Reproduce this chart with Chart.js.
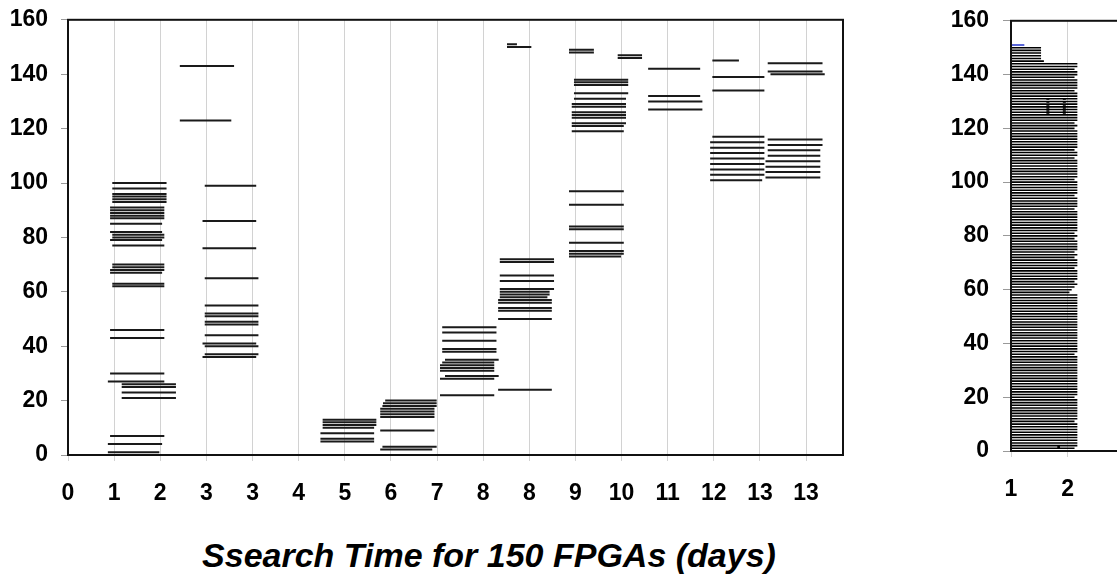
<!DOCTYPE html>
<html>
<head>
<meta charset="utf-8">
<script src="https://cdn.jsdelivr.net/npm/chart.js@4/dist/chart.umd.min.js"></script>
<style>
body{margin:0;background:#fff;overflow:hidden;width:1117px;height:581px;position:relative}
#box1{position:absolute;left:0;top:-7px;width:880px;height:527px}
#box2{position:absolute;left:940px;top:-7px;width:380px;height:527px}
#title{position:absolute;left:0;top:536px;width:978px;text-align:center;line-height:40px;
  font:italic bold 34px 'Liberation Sans',Arial,sans-serif;color:#000}
</style>
</head>
<body>
<div id="box1"><canvas id="myChart"></canvas></div>
<div id="box2"><canvas id="myChart2"></canvas></div>
<div id="title">Ssearch Time for 150 FPGAs (days)</div>
<script>
// x tick labels (ticks every 20 h, shown in rounded days)
const xTickLabels = ['0','1','2','3','3','4','5','6','7','8','8','9','10','11','12','13','13'];

// [fpga, start day, end day]
const batch1 = [[100,0.80,1.78],[98,0.80,1.78],[96,0.80,1.78],[95,0.80,1.78],[94,0.80,1.78],[93,0.80,1.78],
  [91,0.76,1.74],[90,0.76,1.74],[89,0.76,1.74],[88,0.76,1.74],[87,0.76,1.74],
  [85,0.76,1.70],[82,0.76,1.70],[81,0.80,1.74],[80,0.80,1.74],[79,0.76,1.70],[77,0.80,1.74],
  [70,0.80,1.74],[69,0.80,1.74],[68,0.76,1.74],[67,0.76,1.70],[63,0.80,1.74],[62,0.80,1.74],
  [46,0.76,1.74],[43,0.76,1.74],[30,0.76,1.74],[27,0.72,1.74],
  [26,0.97,1.95],[25,0.97,1.95],[23,0.97,1.95],[21,0.97,1.95],
  [7,0.76,1.74],[4,0.72,1.70],[1,0.72,1.65]];
const batch2 = [[143,2.02,3.00],[123,2.02,2.95],[99,2.47,3.40],[86,2.43,3.40],[76,2.43,3.40],[65,2.47,3.44],
  [55,2.47,3.44],[52,2.47,3.44],[51,2.47,3.44],[49,2.47,3.44],[48,2.47,3.44],[44,2.47,3.44],
  [41,2.43,3.40],[40,2.47,3.44],[37,2.47,3.44],[36,2.43,3.40]];
const batch3 = [[13,4.60,5.57],[12,4.60,5.57],[11,4.60,5.57],[10,4.60,5.53],[8,4.56,5.53],[6,4.56,5.53],[5,4.56,5.53]];
const batch4 = [[20,5.73,6.66],[19,5.69,6.66],[18,5.68,6.66],[17,5.64,6.62],[16,5.64,6.62],[15,5.64,6.62],
  [14,5.64,6.62],[9,5.64,6.62],[3,5.68,6.66],[2,5.64,6.58]];
const batch5 = [[47,6.76,7.74],[45,6.76,7.74],[42,6.76,7.74],[39,6.76,7.74],[38,6.76,7.74],[35,6.81,7.78],
  [34,6.76,7.70],[33,6.72,7.70],[32,6.72,7.70],[31,6.72,7.70],[29,6.81,7.78],[28,6.72,7.70],[22,6.72,7.70]];
const batch6 = [[151,7.93,8.11],[150,7.93,8.37],
  [72,7.80,8.78],[71,7.80,8.78],[66,7.80,8.78],[64,7.80,8.78],[61,7.80,8.78],[60,7.80,8.70],[59,7.80,8.70],
  [58,7.80,8.66],[57,7.77,8.74],[56,7.77,8.74],[54,7.77,8.74],[53,7.77,8.74],[50,7.77,8.74],[24,7.77,8.74]];
const batch7 = [[149,9.05,9.50],[148,9.05,9.50],[147,9.93,10.37],[146,9.93,10.37],
  [138,9.14,10.12],[137,9.14,10.12],[136,9.14,10.12],[133,9.14,10.12],[131,9.14,10.08],[129,9.10,10.08],
  [128,9.10,10.08],[126,9.10,10.08],[125,9.10,10.08],[124,9.10,10.08],[122,9.10,10.08],[121,9.10,10.04],[119,9.10,10.04],
  [97,9.05,10.04],[92,9.05,10.04],[84,9.05,10.04],[83,9.05,10.04],[78,9.05,10.04],[75,9.05,10.04],[74,9.05,10.04],[73,9.05,9.99]];
const batch8 = [[142,10.48,11.42],[132,10.48,11.42],[130,10.48,11.46],[127,10.48,11.46]];
const batch9 = [[145,11.64,12.12],[139,11.64,12.58],[134,11.64,12.58],[117,11.64,12.58],[115,11.60,12.58],
  [113,11.60,12.58],[111,11.60,12.58],[109,11.60,12.58],[107,11.60,12.58],[105,11.60,12.58],[103,11.60,12.58],[101,11.60,12.54]];
const batch10 = [[144,12.64,13.63],[141,12.64,13.63],[140,12.69,13.67],[116,12.64,13.63],[114,12.64,13.63],
  [112,12.64,13.59],[110,12.64,13.59],[108,12.60,13.59],[106,12.60,13.59],[104,12.60,13.59],[102,12.60,13.59]];

// right panel: end of each fpga row 1..150 (all start at 1)
const rowEnd = [
  2.12,2.17,2.17,2.17,2.17,2.17,2.17,2.17,2.17,2.17,
  2.12,2.17,2.17,2.17,2.17,2.17,2.17,2.17,2.17,2.12,
  2.17,2.17,2.17,2.17,2.17,2.17,2.17,2.17,2.17,2.17,
  2.17,2.17,2.17,2.17,2.17,2.12,2.17,2.17,2.17,2.17,
  2.17,2.17,2.17,2.17,2.17,2.17,2.17,2.17,2.17,2.17,
  2.17,2.17,2.17,2.17,2.17,2.17,2.17,2.17,2.03,2.07,
  2.12,2.17,2.12,2.17,2.17,2.17,2.17,2.12,2.17,2.17,
  2.17,2.12,2.17,2.12,2.17,2.17,2.17,2.17,2.12,2.17,
  2.12,2.17,2.17,2.17,2.17,2.17,2.17,2.17,2.17,2.12,
  2.17,2.17,2.17,2.17,2.12,2.17,2.17,2.17,2.17,2.17,
  2.12,2.17,2.17,2.17,2.17,2.17,2.17,2.17,2.12,2.17,
  2.17,2.12,2.17,2.17,2.17,2.17,2.17,2.17,2.17,2.12,
  2.17,2.12,2.17,2.17,2.17,2.17,2.17,2.17,2.17,2.17,
  2.17,2.17,2.17,2.12,2.17,2.17,2.17,2.17,2.12,2.17,
  2.17,2.12,2.17,2.17,1.58,1.53,1.53,1.53,1.53,1.53];
const blueRow = [151, 1.00, 1.235];
const markX = [1.65, 1.94];
const markY = [125, 132];
const strayDot = [1.84, 1.5];

function segPoints(list){
  const pts = [];
  list.forEach(s => {
    pts.push({x:s[1], y:s[0]});
    pts.push({x:s[2], y:s[0]});
    pts.push({x:s[2], y:null});
  });
  return pts;
}

const frame = {
  id:'frame',
  afterDraw(chart){
    const a = chart.chartArea, c = chart.ctx;
    c.save();
    c.strokeStyle = '#111';
    c.lineWidth = 2;
    c.strokeRect(a.left, a.top, a.right - a.left, a.bottom - a.top);
    c.restore();
  }
};

const tickFont = {family:"'Liberation Sans', Arial, sans-serif", size:23, weight:'bold'};
Chart.defaults.color = '#000';

function chart1(){
  const all = [batch1,batch2,batch3,batch4,batch5,batch6,batch7,batch8,batch9,batch10];
  const datasets = all.map(b => ({
    data: segPoints(b),
    borderColor:'#1a1a1a',
    borderWidth:2,
    pointRadius:0,
    spanGaps:false,
    tension:0
  }));
  const config = {
    type:'line',
    data:{datasets:datasets},
    options:{
      animation:false,
      responsive:true,
      maintainAspectRatio:false,
      layout:{padding:{top:0,right:37,left:0,bottom:0}},
      plugins:{legend:{display:false},tooltip:{enabled:false}},
      scales:{
        x:{
          type:'linear', min:0, max:14,
          afterBuildTicks: s => { s.ticks = xTickLabels.map((l,i) => ({value:i*5/6})); },
          afterFit: s => { s.height = 65; },
          ticks:{font:tickFont, padding:19, maxRotation:0, autoSkip:false,
            callback:(v,i) => xTickLabels[i]},
          grid:{color:'#d2d2d2', lineWidth:1, tickLength:6},
          border:{display:false}
        },
        y:{
          min:0, max:160,
          afterFit: s => { s.width = 68; },
          ticks:{stepSize:20, font:tickFont, padding:13},
          grid:{drawOnChartArea:false, color:'#999', tickLength:7},
          border:{display:false}
        }
      }
    },
    plugins:[frame]
  };
  new Chart(document.getElementById('myChart'), config);
}

function chart2(){
  const rows = rowEnd.map((e,i) => [i+1, 1, e]);
  const config = {
    type:'line',
    data:{datasets:[
      {data:segPoints(rows), borderColor:'#000', borderWidth:1.6, pointRadius:0, spanGaps:false},
      {data:segPoints([blueRow]), borderColor:'#2233cc', borderWidth:1.5, pointRadius:0},
      {data:[{x:markX[0],y:markY[0]},{x:markX[0],y:markY[1]},{x:markX[0],y:null},
             {x:markX[1],y:markY[0]},{x:markX[1],y:markY[1]}],
       borderColor:'#333', borderWidth:3, borderDash:[2,1], pointRadius:0},
      {data:[{x:strayDot[0],y:strayDot[1]}], showLine:false, pointRadius:1.5,
       pointBackgroundColor:'#000', pointBorderWidth:0}
    ]},
    options:{
      animation:false,
      responsive:true,
      maintainAspectRatio:false,
      layout:{padding:{top:0,right:17.5,left:0,bottom:0}},
      plugins:{legend:{display:false},tooltip:{enabled:false}},
      scales:{
        x:{
          type:'linear', min:1, max:6,
          afterFit: s => { s.height = 69; },
          ticks:{stepSize:1, font:tickFont, padding:19, maxRotation:0},
          grid:{color:'#d2d2d2', lineWidth:1, tickLength:6},
          border:{display:false}
        },
        y:{
          min:0, max:160,
          afterFit: s => { s.width = 71; },
          ticks:{stepSize:20, font:tickFont, padding:14},
          grid:{drawOnChartArea:false, color:'#999', tickLength:8},
          border:{display:false}
        }
      }
    },
    plugins:[frame]
  };
  new Chart(document.getElementById('myChart2'), config);
}

chart1();
chart2();
</script>
</body>
</html>
